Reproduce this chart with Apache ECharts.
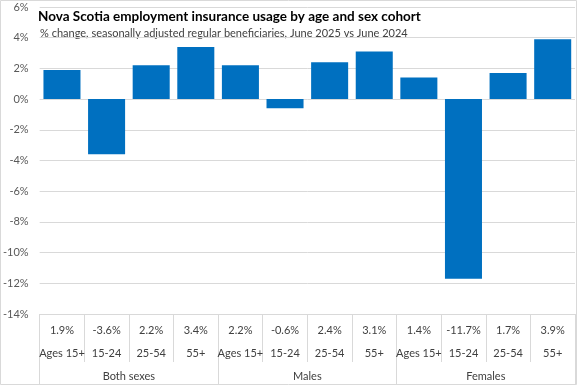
<!DOCTYPE html>
<html>
<head>
<meta charset="utf-8">
<script src="https://cdn.jsdelivr.net/npm/echarts@6/dist/echarts.min.js"></script>
<style>
html,body{margin:0;padding:0;background:#fff;}
#c{width:577px;height:385px;}
</style>
</head>
<body>
<div id="c"></div>
<script>
const titleText = "Nova Scotia employment insurance usage by age and sex cohort";
const subtitleText = "% change, seasonally adjusted regular beneficiaries, June 2025 vs June 2024";
const ages = ["Ages 15+", "15-24", "25-54", "55+", "Ages 15+", "15-24", "25-54", "55+", "Ages 15+", "15-24", "25-54", "55+"];
const values = [1.9, -3.6, 2.2, 3.4, 2.2, -0.6, 2.4, 3.1, 1.4, -11.7, 1.7, 3.9];
const groups = ["Both sexes", "Males", "Females"];
const yTicks = {min: -14, max: 6, interval: 2};

const FONT = "Lato";
const TXT = "#404040";
const LINE = "#d9d9d9";

const chart = echarts.init(document.getElementById('c'), null, {renderer: 'canvas'});
chart.setOption({
  animation: false,
  textStyle: {fontFamily: FONT},
  grid: {left: 39, right: 2, top: 7, bottom: 71, containLabel: false},
  graphic: [
    {type: 'rect', shape: {x: 0.5, y: 0.5, width: 576, height: 384}, style: {fill: 'none', stroke: LINE, lineWidth: 1}, silent: true},
    {type: 'text', left: 38, top: 10, style: {text: titleText, font: 'bold 13.5px ' + FONT, fill: '#000'}},
    {type: 'text', left: 40, top: 28, style: {text: subtitleText, font: '11px ' + FONT, fill: TXT}}
  ],
  xAxis: [
    {
      type: 'category', data: ages, position: 'bottom',
      axisLine: {show: true, onZero: false, lineStyle: {color: LINE}},
      axisTick: {show: true, interval: 0, length: 48, lineStyle: {color: LINE}},
      axisLabel: {
        interval: 0, margin: 5,
        formatter: function (v, i) { return '{v|' + values[i].toFixed(1) + '%}\n{a|' + v + '}'; },
        rich: {
          v: {fontSize: 11, lineHeight: 23, color: TXT, fontFamily: FONT, align: 'center'},
          a: {fontSize: 11, lineHeight: 23, color: TXT, fontFamily: FONT, align: 'center'}
        }
      }
    },
    {
      type: 'category', data: groups, position: 'bottom', gridIndex: 0,
      axisLine: {show: false, onZero: false},
      axisTick: {show: true, interval: 0, length: 70, lineStyle: {color: LINE}},
      axisLabel: {interval: 0, margin: 55, fontSize: 11, color: TXT, fontFamily: FONT, lineHeight: 14}
    }
  ],
  yAxis: {
    type: 'value', min: yTicks.min, max: yTicks.max, interval: yTicks.interval,
    axisLine: {show: false}, axisTick: {show: false},
    axisLabel: {formatter: '{value}%', fontSize: 11, color: '#595959', margin: 11, fontFamily: FONT},
    splitLine: {lineStyle: {color: LINE}}
  },
  series: [{
    type: 'bar', data: values, xAxisIndex: 0,
    barCategoryGap: '17%',
    itemStyle: {color: '#0070C0'}
  }]
});
</script>
</body>
</html>
